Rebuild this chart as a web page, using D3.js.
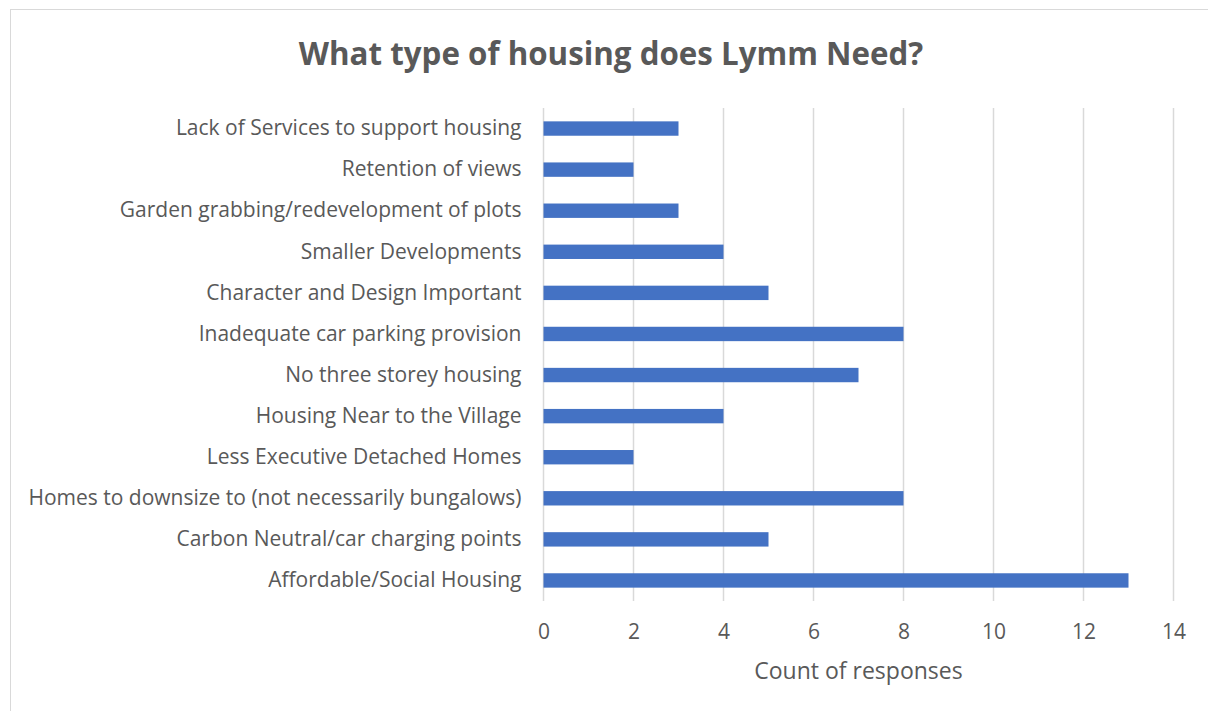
<!DOCTYPE html>
<html>
<head>
<meta charset="utf-8">
<script src="https://cdn.jsdelivr.net/npm/d3@7"></script>
<style>
  body { margin: 0; background: #fff; }
  text { font-family: "Open Sans", Lato, sans-serif; fill: #595959; }
</style>
</head>
<body>
<svg id="chart" width="1208" height="711"></svg>
<script>
// categories, top to bottom as shown
var categories = [
  "Lack of Services to support housing",
  "Retention of views",
  "Garden grabbing/redevelopment of plots",
  "Smaller Developments",
  "Character and Design Important",
  "Inadequate car parking provision",
  "No three storey housing",
  "Housing Near to the Village",
  "Less Executive Detached Homes",
  "Homes to downsize to (not necessarily bungalows)",
  "Carbon Neutral/car charging points",
  "Affordable/Social Housing"
];
var counts = [3, 2, 3, 4, 5, 8, 7, 4, 2, 8, 5, 13];
var xTicks = [0, 2, 4, 6, 8, 10, 12, 14];

var title = "What type of housing does Lymm Need?";
var xTitle = "Count of responses";

var svg = d3.select("#chart");

// chart frame
svg.append("rect")
  .attr("x", 10.5).attr("y", 9.5)
  .attr("width", 1203).attr("height", 720)
  .attr("fill", "none")
  .attr("stroke", "#d9d9d9")
  .attr("stroke-width", 1);

var plot = { left: 543.5, right: 1173.5, top: 108, bottom: 601 };

var x = d3.scaleLinear()
  .domain([0, 14])
  .range([plot.left, plot.right]);

var y = d3.scaleBand()
  .domain(categories)
  .range([plot.top, plot.bottom])
  .paddingInner(0.65)
  .paddingOuter(0.325);

// gridlines
svg.append("g")
  .attr("class", "grid")
  .selectAll("line")
  .data(xTicks)
  .join("line")
  .attr("x1", function (d) { return x(d); })
  .attr("x2", function (d) { return x(d); })
  .attr("y1", plot.top)
  .attr("y2", plot.bottom)
  .attr("stroke", "#d9d9d9")
  .attr("stroke-width", 1.5);

// bars
svg.append("g")
  .selectAll("rect")
  .data(categories)
  .join("rect")
  .attr("x", x(0))
  .attr("y", function (d) { return y(d); })
  .attr("width", function (d, i) { return x(counts[i]) - x(0); })
  .attr("height", y.bandwidth())
  .attr("fill", "#4472c4");

// category labels
var yAxis = svg.append("g")
  .attr("transform", "translate(" + plot.left + ",0)")
  .call(d3.axisLeft(y).tickSize(0).tickPadding(22));
yAxis.select(".domain").remove();
yAxis.selectAll("text")
  .style("font-size", "21px")
  .attr("fill", "#595959");

// x tick labels
var xAxis = svg.append("g")
  .attr("transform", "translate(0," + plot.bottom + ")")
  .call(d3.axisBottom(x).tickValues(xTicks).tickSize(0).tickPadding(23));
xAxis.select(".domain").remove();
xAxis.selectAll("text")
  .style("font-size", "21px")
  .attr("fill", "#595959");

// axis title
svg.append("text")
  .attr("x", (plot.left + plot.right) / 2)
  .attr("y", 679)
  .attr("text-anchor", "middle")
  .style("font-size", "23px")
  .text(xTitle);

// chart title
svg.append("text")
  .attr("x", 611)
  .attr("y", 65)
  .attr("text-anchor", "middle")
  .style("font-size", "31.3px")
  .style("font-weight", "bold")
  .text(title);
</script>
</body>
</html>
